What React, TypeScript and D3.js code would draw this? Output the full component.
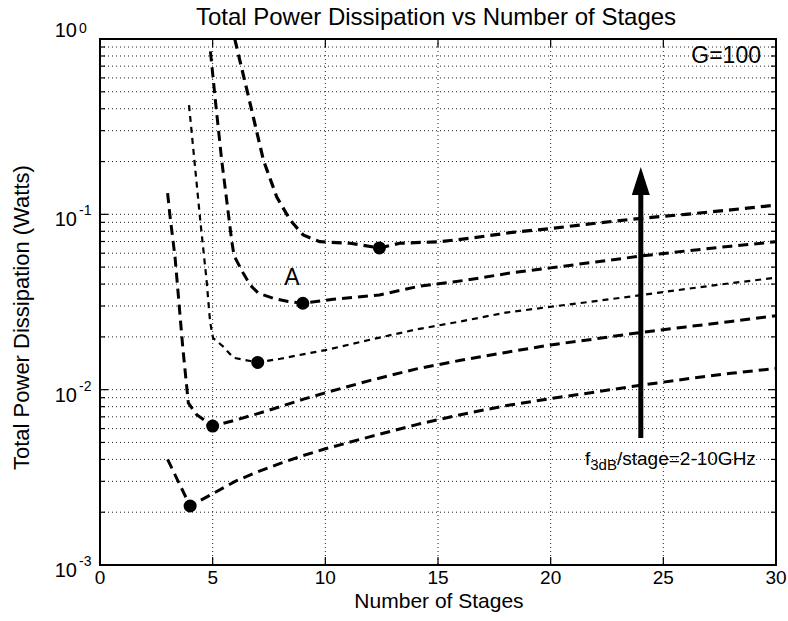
import React from 'react';
import * as d3 from 'd3';

// ---- data ----
const xTickValues = [0, 5, 10, 15, 20, 25, 30];
const yDecadeValues = [1, 0.1, 0.01, 0.001];
const yDecadeExponents = ['0', '-1', '-2', '-3'];

// f3dB/stage = 2 GHz
const s1X = [3, 4, 5, 6, 7, 8, 9, 10, 12, 14, 16, 18, 20, 22, 24, 26, 28, 30];
const s1Y = [0.004, 0.00217, 0.00255, 0.003, 0.0034, 0.0038, 0.0042, 0.0046, 0.0054, 0.0063, 0.0072, 0.0081, 0.0089, 0.0097, 0.0106, 0.0115, 0.0124, 0.0132];
// 4 GHz
const s2X = [3, 3.11, 3.33, 3.48, 3.67, 3.92, 4.29, 5, 6, 7, 8, 9, 10, 12, 14, 16, 18, 20, 22, 24, 26, 28, 30];
const s2Y = [0.132, 0.097, 0.057, 0.034, 0.0176, 0.0084, 0.0072, 0.0062, 0.0067, 0.0073, 0.008, 0.0088, 0.0096, 0.0113, 0.0131, 0.0147, 0.0163, 0.018, 0.0195, 0.0212, 0.0228, 0.0245, 0.0264];
// 6 GHz
const s3X = [3.95, 4.44, 4.73, 4.88, 4.97, 5.02, 5.47, 5.92, 7, 8, 9, 10, 12, 14, 16, 18, 20, 22, 24, 26, 28, 30];
const s3Y = [0.42, 0.095, 0.042, 0.0249, 0.021, 0.0197, 0.0176, 0.0152, 0.0143, 0.015, 0.0159, 0.0168, 0.0193, 0.022, 0.0245, 0.0275, 0.0297, 0.032, 0.0346, 0.0375, 0.0405, 0.0435];
// 8 GHz
const s4X = [4.9, 5.15, 5.4, 5.62, 5.84, 5.95, 6.36, 6.66, 7.03, 7.7, 8.35, 9, 10.35, 12.4, 14.2, 16.3, 18.3, 20, 22, 24, 26, 28, 30];
const s4Y = [0.85, 0.41, 0.204, 0.121, 0.0714, 0.058, 0.0461, 0.0396, 0.0355, 0.0332, 0.0318, 0.0311, 0.0328, 0.0347, 0.039, 0.0422, 0.0465, 0.0495, 0.0535, 0.0578, 0.0618, 0.0658, 0.0698];
// 10 GHz
const s5X = [5.98, 6.66, 7.25, 7.84, 8.43, 9.02, 9.76, 11.1, 12.4, 13.3, 15.1, 16.4, 18.3, 20, 22, 24, 26, 28, 30];
const s5Y = [1.0, 0.43, 0.204, 0.126, 0.093, 0.0762, 0.0698, 0.0684, 0.0643, 0.0684, 0.0698, 0.073, 0.0789, 0.083, 0.089, 0.0949, 0.1, 0.106, 0.113];

const seriesXs = [s1X, s2X, s3X, s4X, s5X];
const seriesYs = [s1Y, s2Y, s3Y, s4Y, s5Y];

// optimum points
const optX = [4, 5, 7, 9, 12.4];
const optY = [0.00217, 0.0062, 0.0143, 0.0311, 0.0643];

// arrow (x in stages, y range in watts)
const arrowX = 24;
const arrowFromY = 0.0053;
const arrowToY = 0.186;

const FONT = '"Liberation Sans", Arial, Helvetica, sans-serif';

export default function App() {
  const L = 100, R = 776, T = 39, B = 565;
  const x = d3.scaleLinear().domain([0, 30]).range([L, R]);
  const y = d3.scaleLog().domain([0.001, 1]).range([B, T]);
  const line = d3.line<[number, number]>().x(d => x(d[0])).y(d => y(d[1]));

  const minorVals: number[] = [];
  [0.001, 0.01, 0.1].forEach(dec => {
    for (let k = 2; k <= 9; k++) minorVals.push(dec * k);
  });

  const styles = [
    { w: 3, dash: '10,6' },
    { w: 3, dash: '10,6' },
    { w: 2.2, dash: '6,5' },
    { w: 3, dash: '10,6' },
    { w: 3.2, dash: '10,6' },
  ];

  const ax = x(arrowX);
  const ay0 = y(arrowFromY);
  const ayTip = y(arrowToY);
  const headLen = 28;
  const headHalf = 9;

  return (
    <svg width={788} height={621} style={{ position: 'absolute', left: 0, top: 0, background: '#fff' }} fontFamily={FONT}>
      <rect x={0} y={0} width={788} height={621} fill="#fff" />
      <defs>
        <clipPath id="plotclip">
          <rect x={L} y={T} width={R - L} height={B - T} />
        </clipPath>
      </defs>

      {/* grid */}
      <g stroke="#222" strokeWidth={1} strokeDasharray="1,3">
        {xTickValues.filter(v => v > 0 && v < 30).map(v => (
          <line key={'gx' + v} x1={x(v)} x2={x(v)} y1={T} y2={B} />
        ))}
        {[...minorVals, 0.01, 0.1].map(v => (
          <line key={'gy' + v} x1={L} x2={R} y1={y(v)} y2={y(v)} />
        ))}
      </g>

      {/* curves */}
      <g clipPath="url(#plotclip)" fill="none" stroke="#000">
        {seriesXs.map((xs, i) => (
          <path
            key={'s' + i}
            d={line(xs.map((xv, j) => [xv, seriesYs[i][j]] as [number, number])) || ''}
            strokeWidth={styles[i].w}
            strokeDasharray={styles[i].dash}
          />
        ))}
      </g>

      {/* optimum markers */}
      {optX.map((xv, i) => (
        <circle key={'o' + i} cx={x(xv)} cy={y(optY[i])} r={6.5} fill="#000" />
      ))}

      {/* arrow */}
      <line x1={ax} x2={ax} y1={ay0} y2={ayTip + headLen - 2} stroke="#000" strokeWidth={5} />
      <path d={`M${ax},${ayTip} L${ax - headHalf},${ayTip + headLen} L${ax + headHalf},${ayTip + headLen} Z`} fill="#000" />

      {/* frame */}
      <rect x={L} y={T} width={R - L} height={B - T} fill="none" stroke="#000" strokeWidth={2} />

      {/* ticks */}
      <g stroke="#000" strokeWidth={1.2}>
        {xTickValues.map(v => (
          <g key={'tx' + v}>
            <line x1={x(v)} x2={x(v)} y1={B} y2={B - 8} />
            <line x1={x(v)} x2={x(v)} y1={T} y2={T + 8} />
          </g>
        ))}
        {yDecadeValues.map(v => (
          <g key={'ty' + v}>
            <line x1={L} x2={L + 8} y1={y(v)} y2={y(v)} />
            <line x1={R} x2={R - 8} y1={y(v)} y2={y(v)} />
          </g>
        ))}
        {minorVals.map(v => (
          <g key={'tm' + v}>
            <line x1={L} x2={L + 5} y1={y(v)} y2={y(v)} />
            <line x1={R} x2={R - 5} y1={y(v)} y2={y(v)} />
          </g>
        ))}
      </g>

      {/* x tick labels */}
      {xTickValues.map(v => (
        <text key={'lx' + v} x={x(v)} y={584} fontSize={19} textAnchor="middle" fill="#000">
          {v}
        </text>
      ))}

      {/* y tick labels */}
      {yDecadeValues.map((v, i) => {
        const gy = y(v);
        const top = v === 1;
        const base = top ? gy - 2 : gy + 12;
        const supBase = top ? gy - 6 : gy + 1;
        return (
          <g key={'ly' + v}>
            <text x={77} y={base} fontSize={20} textAnchor="end" fill="#000">10</text>
            <text x={79} y={supBase} fontSize={14} textAnchor="start" fill="#000">{yDecadeExponents[i]}</text>
          </g>
        );
      })}

      {/* titles */}
      <text x={436} y={25} fontSize={24} textAnchor="middle" fill="#000">
        Total Power Dissipation vs Number of Stages
      </text>
      <text x={439} y={608} fontSize={21} textAnchor="middle" fill="#000">
        Number of Stages
      </text>
      <text transform="translate(29,470) rotate(-90)" fontSize={22} textAnchor="start" fill="#000">
        Total Power Dissipation (Watts)
      </text>

      {/* annotations */}
      <text x={761} y={63} fontSize={23} textAnchor="end" fill="#000">G=100</text>
      <text x={292} y={285} fontSize={23} textAnchor="middle" fill="#000">A</text>
      <text x={585} y={465} fontSize={19} fill="#000">
        <tspan>f</tspan>
        <tspan fontSize={15} dy={5}>3dB</tspan>
        <tspan dy={-5}>/stage=2-10GHz</tspan>
      </text>
    </svg>
  );
}
